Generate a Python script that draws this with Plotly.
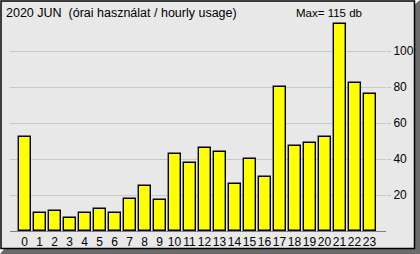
import plotly.graph_objects as go

hours = list(range(24))
usage = [52, 10, 11, 7, 10, 12, 10, 18, 25, 17, 43, 38, 46, 44, 26, 40, 30, 80, 47, 49, 52, 115, 82, 76]
y_ticks = [20, 40, 60, 80, 100]
title_text = "2020 JUN  (órai használat / hourly usage)"
max_text = "Max= 115 db"

W, H = 420, 254
L, R, T, B = 10, 34, 20, 23
PW, PH = W - L - R, H - T - B

def px(x):
    return (x - L) / PW

def py(y):
    return (H - B - y) / PH

FONT = "Liberation Sans, Arial, sans-serif"

fig = go.Figure()
fig.add_trace(go.Bar(
    x=hours, y=usage, width=0.8,
    marker=dict(color="#ffff00", line=dict(color="#000000", width=1.4)),
))

shadow = (f"M {px(0)},{py(254)} L {px(5)},{py(248)} L {px(414)},{py(248)} "
          f"L {px(414)},{py(5)} L {px(420)},{py(0)} L {px(420)},{py(254)} Z")
fig.add_shape(type="path", path=shadow, xref="paper", yref="paper",
              fillcolor="#6b6b6b", line=dict(width=0), layer="below")
fig.add_shape(type="rect", xref="paper", yref="paper",
              x0=px(1), x1=px(414.5), y0=py(1), y1=py(248.5),
              fillcolor="#e8e8e8", line=dict(color="#000000", width=1.5), layer="below")

fig.add_annotation(text=title_text, xref="paper", yref="paper", x=px(4), y=py(13),
                   xanchor="left", yanchor="middle", showarrow=False,
                   font=dict(family=FONT, size=12.5, color="#000000"))
fig.add_annotation(text=max_text, xref="paper", yref="paper", x=px(329), y=py(13),
                   xanchor="center", yanchor="middle", showarrow=False,
                   font=dict(family=FONT, size=11.5, color="#000000"))

fig.update_layout(
    width=W, height=H, margin=dict(l=L, r=R, t=T, b=B, autoexpand=False),
    paper_bgcolor="#ffffff", plot_bgcolor="rgba(0,0,0,0)",
    showlegend=False, bargap=0,
    font=dict(family=FONT, size=12, color="#000000"),
)
fig.update_xaxes(range=[(L - 24.5) / 15, (W - R - 24.5) / 15], automargin=False,
                 tickmode="array", tickvals=hours, ticktext=[str(h) for h in hours],
                 tickangle=0, showgrid=False, zeroline=False, showline=True,
                 linecolor="#808080", linewidth=1, ticks="", tickfont=dict(size=12))
fig.update_yaxes(range=[0, PH / 1.8], side="right", tickmode="array", tickvals=y_ticks,
                 automargin=False,
                 showgrid=True, gridcolor="#c8c8c8", gridwidth=1, zeroline=False,
                 showline=False, ticks="outside", ticklen=4, tickcolor="#c8c8c8",
                 tickfont=dict(size=12))

fig.write_html("out.html")
